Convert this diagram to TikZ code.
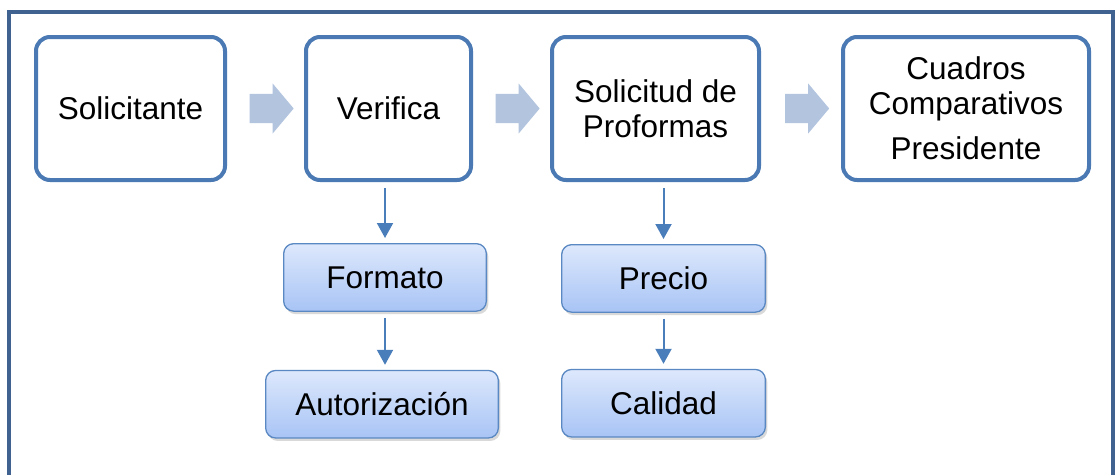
\documentclass[tikz,border=0pt]{standalone}
\usepackage{fontspec}
\setmainfont{Liberation Sans}
\usetikzlibrary{positioning,shapes.arrows,shadows,arrows.meta}
\definecolor{marco}{HTML}{3F6291}
\definecolor{borde}{HTML}{4A79B3}
\definecolor{bordesub}{HTML}{5A88C2}
\definecolor{claro}{HTML}{DDE8FC}
\definecolor{oscuro}{HTML}{A8C4F5}
\definecolor{flechaclara}{HTML}{B3C4DF}
\definecolor{baja}{HTML}{4A7EBB}

\begin{document}
\begin{tikzpicture}[node distance={77pt},
  main/.style = {draw=borde, line width=4pt, rounded corners=14pt, minimum height=143pt, align=center, font=\fontsize{31.5}{35}\selectfont},
  sub/.style = {draw=bordesub, line width=1.3pt, rounded corners=10pt, top color=claro, bottom color=oscuro, minimum height=67.5pt, font=\fontsize{31.5}{35}\selectfont, drop shadow={shadow xshift=2pt, shadow yshift=-3pt, opacity=0.3, fill=black!50}},
  flecha/.style = {single arrow, fill=flechaclara, inner sep=0pt, inner ysep=14.5pt, minimum height=44pt, single arrow head extend=10.5pt, single arrow tip angle=100},
  baja/.style = {draw=baja, line width=2pt, -{Triangle[width=16pt,length=15pt]}, shorten <=6pt, shorten >=5pt}]
	\useasboundingbox (0pt,0pt) rectangle (1115pt,-474pt);
	\draw[marco, line width=4.5pt] (9pt,-12pt) rectangle (1113pt,-490pt);
	% fila de arriba
	\node[main, minimum width=189pt] (1) at (130.5pt,-108.5pt) {Solicitante};
	\node[main, minimum width=165pt] (2) [right=of 1] {Verifica};
	\node[main, minimum width=207pt] (3) [right=of 2] {Solicitud de\\Proformas};
	\node[main, minimum width=246pt] (4) [right=80pt of 3] {Cuadros\\Comparativos\\[10pt]Presidente};
	% cajas de abajo
	\node[sub, minimum width=202.7pt] (5) [below=61pt of 2, xshift=-3.5pt] {Formato};
	\node[sub, minimum width=232.7pt] (6) [below=58pt of 5, xshift=-3pt] {Autorización};
	\node[sub, minimum width=203.7pt] (7) [below=62pt of 3, xshift=8pt] {Precio};
	\node[sub, minimum width=203.7pt] (8) [below=56pt of 7] {Calidad};
	\path (1) -- node[flecha] (a1) {} (2);
	\path (2) -- node[flecha] (a2) {} (3);
	\path (3) -- node[flecha] (a3) {} (4);
	\draw[baja] (2.south -| 5.north) -- (5.north);
	\draw[baja] (5) -- (6.north -| 5.south);
	\draw[baja] (3.south -| 7.north) -- (7.north);
	\draw[baja] (7) -- (8);
\end{tikzpicture}
\end{document}
